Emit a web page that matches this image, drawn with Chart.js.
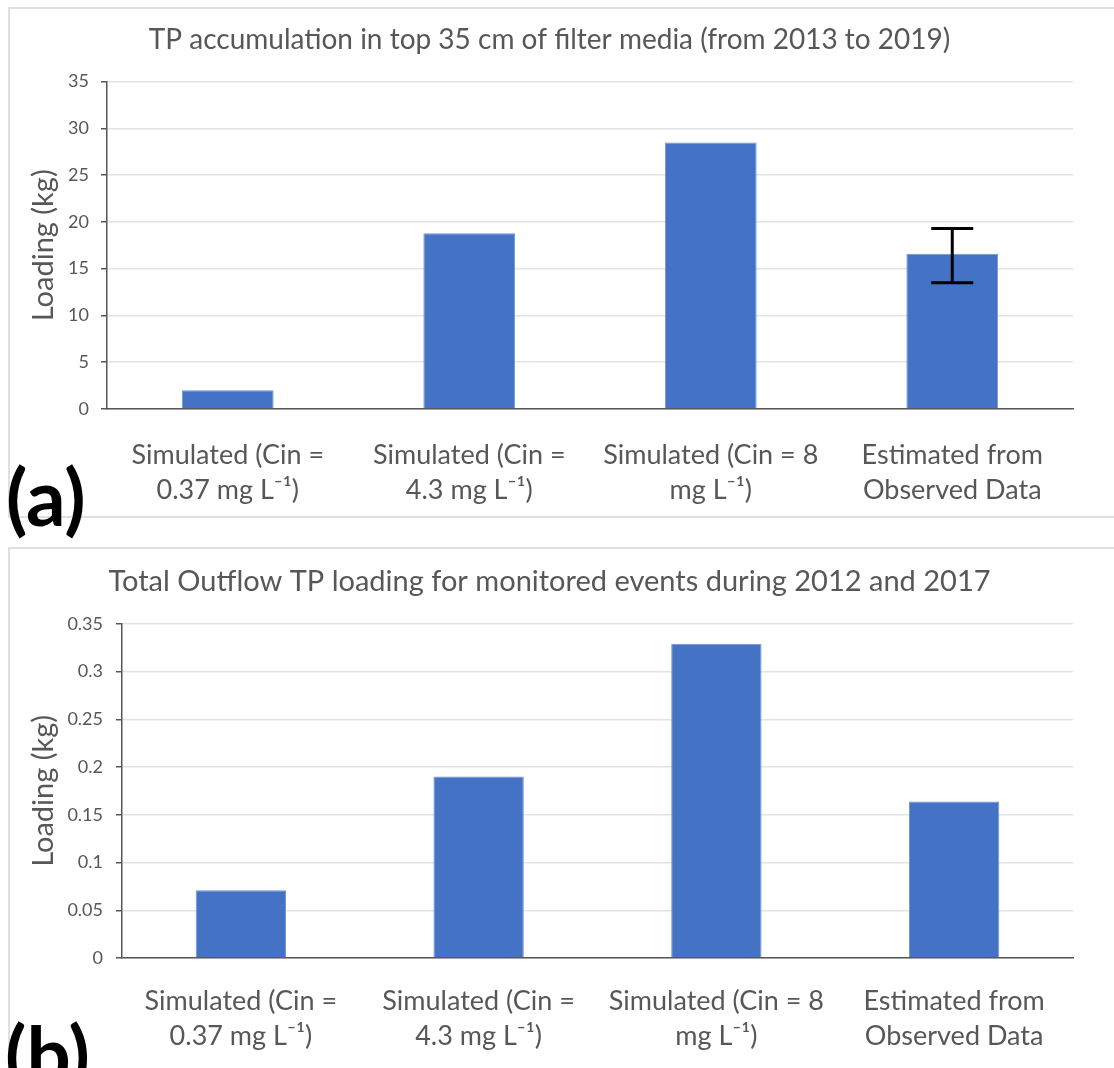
<!DOCTYPE html>
<html>
<head>
<meta charset="utf-8">
<script src="https://cdn.jsdelivr.net/npm/chart.js@4.4.1/dist/chart.umd.min.js"></script>
<style>
  body { margin: 0; background: #fff; width: 1114px; height: 1068px; position: relative; overflow: hidden; font-family: Lato, sans-serif; }
  .panel { position: absolute; border: 2px solid #e0e0e0; box-sizing: border-box; }
  #pa { left: 8px; top: 7px; width: 1130px; height: 511px; }
  #pb { left: 8px; top: 547px; width: 1130px; height: 530px; }
  canvas { position: absolute; }
  #ca { left: 8px; top: 8px; }
  #cb { left: 8px; top: 548px; }
  .tag { position: absolute; font: bold 78px Lato, sans-serif; color: #000; line-height: 1; }
  #ta { left: 6px; top: 457px; }
  #tb { left: 5px; top: 1014px; }
</style>
</head>
<body>
<div class="panel" id="pa"></div>
<div class="panel" id="pb"></div>
<canvas id="ca" width="1084" height="509"></canvas>
<canvas id="cb" width="1124" height="520"></canvas>
<div class="tag" id="ta">(a)</div>
<div class="tag" id="tb">(b)</div>
<script>
// Scenario labels shared by both panels
const categories = [
  ['Simulated (Cin =', '0.37 mg L\u207B\u00B9)'],
  ['Simulated (Cin =', '4.3 mg L\u207B\u00B9)'],
  ['Simulated (Cin = 8', 'mg L\u207B\u00B9)'],
  ['Estimated from', 'Observed Data']
];

// (a) TP accumulated in the top 35 cm of filter media, kg
const titleA = 'TP accumulation in top 35 cm of filter media (from 2013 to 2019)';
const accumulation = [2.0, 18.8, 28.5, 16.6];
const accumulationLow = [null, null, null, 13.5];
const accumulationHigh = [null, null, null, 19.3];
const ticksA = [0, 5, 10, 15, 20, 25, 30, 35];

// (b) total outflow TP loading, kg
const titleB = 'Total Outflow TP loading for monitored events during 2012 and 2017';
const outflow = [0.071, 0.190, 0.329, 0.164];
const ticksB = [0, 0.05, 0.1, 0.15, 0.2, 0.25, 0.3, 0.35];

const GREY = '#575757';
const FONT = 'Lato';

// Whisker bars with caps, drawn from low/high values through the y scale
function errorBarPlugin(low, high) {
  return {
    id: 'errorBars',
    afterDatasetsDraw(chart) {
      const meta = chart.getDatasetMeta(0);
      const y = chart.scales.y;
      const ctx = chart.ctx;
      ctx.save();
      ctx.strokeStyle = '#000';
      ctx.lineWidth = 3;
      meta.data.forEach((bar, i) => {
        if (low[i] == null || high[i] == null) return;
        const x = bar.x;
        const yl = y.getPixelForValue(low[i]);
        const yh = y.getPixelForValue(high[i]);
        const cap = 21;
        ctx.beginPath();
        ctx.moveTo(x, yh); ctx.lineTo(x, yl);
        ctx.moveTo(x - cap, yh); ctx.lineTo(x + cap, yh);
        ctx.moveTo(x - cap, yl); ctx.lineTo(x + cap, yl);
        ctx.stroke();
      });
      ctx.restore();
    }
  };
}

function makeChart(id, title, values, ticks, cfg, plugins) {
  const tickMax = ticks[ticks.length - 1];
  const step = ticks[1] - ticks[0];
  return new Chart(document.getElementById(id), {
    type: 'bar',
    data: {
      labels: categories,
      datasets: [{
        data: values,
        backgroundColor: '#4472C4',
        borderColor: '#6f93d3',
        borderWidth: 1,
        barPercentage: 0.38,
        categoryPercentage: 1
      }]
    },
    plugins: plugins || [],
    options: {
      responsive: false,
      animation: false,
      events: [],
      layout: { padding: { left: 18, right: cfg.right, top: 0, bottom: 0 } },
      plugins: {
        legend: { display: false },
        tooltip: { enabled: false },
        title: {
          display: true,
          text: title,
          color: GREY,
          font: { family: FONT, size: cfg.titleSize, weight: 'normal' },
          padding: { top: cfg.titleTop, bottom: cfg.titleBottom }
        }
      },
      scales: {
        x: {
          grid: { display: false, drawTicks: false },
          border: { display: true, color: GREY, width: 1.5 },
          ticks: {
            color: GREY,
            padding: cfg.xPad,
            maxRotation: 0,
            autoSkip: false,
            font: { family: FONT, size: 27, lineHeight: 1.3 }
          },
          afterFit(s) { s.height = cfg.xHeight; }
        },
        y: {
          min: 0,
          max: tickMax,
          afterBuildTicks(s) { s.ticks = ticks.map(v => ({ value: v })); },
          grid: { color: '#e3e3e3', lineWidth: 1.5, tickColor: GREY, tickLength: 6 },
          border: { display: true, color: GREY, width: 1.5 },
          ticks: {
            color: GREY,
            padding: cfg.yPad,
            stepSize: step,
            font: { family: FONT, size: 18 },
            callback: v => String(parseFloat(Number(v).toFixed(2)))
          },
          title: {
            display: true,
            text: 'Loading (kg)',
            color: GREY,
            font: { family: FONT, size: 29, weight: 'normal' },
            padding: { top: 0, bottom: 0 }
          },
          afterFit(s) { s.width = cfg.yWidth; }
        }
      }
    }
  });
}

makeChart('ca', titleA, accumulation, ticksA,
  { right: 19, titleSize: 28, titleTop: 15, titleBottom: 25, xPad: 28.5, xHeight: 108, yPad: 12, yWidth: 81 },
  [errorBarPlugin(accumulationLow, accumulationHigh)]);

makeChart('cb', titleB, outflow, ticksB,
  { right: 59, titleSize: 29, titleTop: 16.5, titleBottom: 24.5, xPad: 26, xHeight: 110, yPad: 13, yWidth: 96 });
</script>
</body>
</html>
